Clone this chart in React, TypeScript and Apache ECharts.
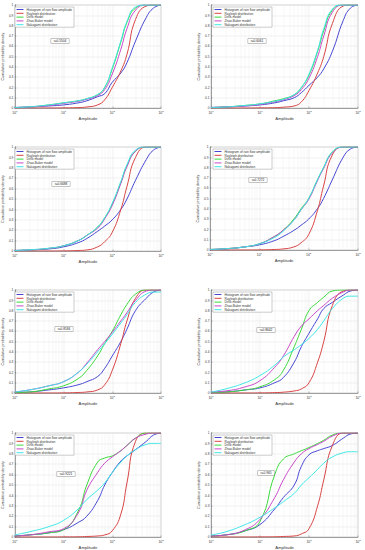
import React, { useEffect, useRef } from "react";
import * as echarts from "echarts";

// Amplitude sample points (log axis)
const X = [1, 2, 5, 10, 20, 30, 50, 70, 100, 150, 200, 300, 500, 700, 1000];

// Panel 1
const hist1 = [0.005, 0.01, 0.02, 0.03, 0.05, 0.07, 0.11, 0.14, 0.25, 0.34, 0.44, 0.65, 0.88, 0.97, 1];
const ray1 = [0, 0, 0, 0.001, 0.004, 0.01, 0.03, 0.08, 0.2, 0.36, 0.52, 0.86, 0.99, 1, 1];
const dir1 = [0.005, 0.01, 0.03, 0.05, 0.07, 0.09, 0.13, 0.2, 0.38, 0.64, 0.83, 0.97, 1, 1, 1];
const zb1 = [0.005, 0.01, 0.025, 0.045, 0.065, 0.085, 0.12, 0.18, 0.33, 0.57, 0.77, 0.95, 1, 1, 1];
const nak1 = [0.005, 0.012, 0.03, 0.05, 0.07, 0.09, 0.13, 0.2, 0.39, 0.65, 0.84, 0.98, 1, 1, 1];
// Panel 2
const hist2 = [0.005, 0.01, 0.02, 0.03, 0.05, 0.07, 0.1, 0.15, 0.22, 0.3, 0.38, 0.55, 0.85, 0.97, 1];
const ray2 = [0, 0, 0, 0.001, 0.003, 0.008, 0.02, 0.06, 0.17, 0.34, 0.5, 0.82, 0.99, 1, 1];
const dir2 = [0.005, 0.01, 0.025, 0.04, 0.07, 0.09, 0.13, 0.2, 0.32, 0.55, 0.75, 0.95, 1, 1, 1];
const zb2 = [0.005, 0.01, 0.02, 0.035, 0.06, 0.08, 0.12, 0.18, 0.29, 0.5, 0.7, 0.93, 1, 1, 1];
const nak2 = [0.005, 0.01, 0.025, 0.04, 0.065, 0.085, 0.13, 0.2, 0.33, 0.56, 0.77, 0.96, 1, 1, 1];
// Panel 3
const hist3 = [0.005, 0.01, 0.02, 0.04, 0.08, 0.12, 0.19, 0.24, 0.3, 0.4, 0.5, 0.68, 0.88, 0.97, 1];
const ray3 = [0, 0, 0, 0.001, 0.005, 0.01, 0.04, 0.09, 0.18, 0.4, 0.62, 0.9, 1, 1, 1];
const dir3 = [0.005, 0.01, 0.025, 0.05, 0.1, 0.15, 0.23, 0.32, 0.45, 0.66, 0.82, 0.96, 1, 1, 1];
const zb3 = [0.005, 0.01, 0.025, 0.05, 0.1, 0.15, 0.22, 0.31, 0.44, 0.65, 0.81, 0.96, 1, 1, 1];
const nak3 = [0.005, 0.012, 0.027, 0.05, 0.1, 0.15, 0.23, 0.32, 0.46, 0.67, 0.83, 0.97, 1, 1, 1];
// Panel 4
const hist4 = [0.005, 0.01, 0.03, 0.05, 0.09, 0.13, 0.19, 0.24, 0.3, 0.4, 0.5, 0.68, 0.9, 0.98, 1];
const ray4 = [0, 0, 0, 0.001, 0.005, 0.01, 0.03, 0.07, 0.15, 0.38, 0.62, 0.92, 1, 1, 1];
const dir4 = [0.005, 0.012, 0.03, 0.06, 0.13, 0.19, 0.3, 0.4, 0.5, 0.68, 0.8, 0.95, 1, 1, 1];
const zb4 = [0.005, 0.012, 0.03, 0.06, 0.13, 0.19, 0.29, 0.39, 0.49, 0.67, 0.79, 0.94, 1, 1, 1];
const nak4 = [0.005, 0.012, 0.03, 0.06, 0.12, 0.18, 0.29, 0.39, 0.5, 0.68, 0.8, 0.95, 1, 1, 1];
// Panel 5
const hist5 = [0.005, 0.01, 0.03, 0.05, 0.08, 0.11, 0.16, 0.24, 0.36, 0.5, 0.62, 0.8, 0.92, 0.98, 1];
const ray5 = [0, 0, 0, 0.001, 0.005, 0.01, 0.03, 0.08, 0.22, 0.48, 0.7, 0.92, 1, 1, 1];
const dir5 = [0.005, 0.01, 0.04, 0.07, 0.14, 0.22, 0.36, 0.48, 0.6, 0.76, 0.86, 0.96, 1, 1, 1];
const zb5 = [0.01, 0.03, 0.07, 0.11, 0.2, 0.29, 0.42, 0.5, 0.59, 0.7, 0.78, 0.9, 0.99, 1, 1];
const nak5 = [0.01, 0.03, 0.07, 0.11, 0.2, 0.28, 0.4, 0.48, 0.57, 0.68, 0.76, 0.88, 0.96, 0.98, 0.98];
// Panel 6
const hist6 = [0.005, 0.01, 0.03, 0.05, 0.1, 0.15, 0.3, 0.45, 0.58, 0.72, 0.82, 0.88, 0.95, 0.99, 1];
const ray6 = [0, 0, 0, 0.001, 0.004, 0.008, 0.02, 0.04, 0.1, 0.3, 0.5, 0.85, 0.99, 1, 1];
const dir6 = [0.005, 0.01, 0.03, 0.06, 0.13, 0.22, 0.45, 0.62, 0.8, 0.88, 0.93, 0.99, 1, 1, 1];
const zb6 = [0.01, 0.02, 0.06, 0.12, 0.25, 0.36, 0.55, 0.65, 0.72, 0.8, 0.85, 0.92, 0.98, 1, 1];
const nak6 = [0.01, 0.04, 0.1, 0.17, 0.27, 0.35, 0.42, 0.47, 0.53, 0.62, 0.7, 0.82, 0.92, 0.94, 0.94];
// Panel 7
const hist7 = [0.01, 0.02, 0.04, 0.07, 0.14, 0.2, 0.35, 0.5, 0.62, 0.73, 0.78, 0.84, 0.92, 0.98, 1];
const ray7 = [0, 0, 0, 0.001, 0.002, 0.005, 0.01, 0.02, 0.06, 0.22, 0.52, 0.92, 1, 1, 1];
const dir7 = [0.01, 0.02, 0.04, 0.07, 0.25, 0.5, 0.72, 0.76, 0.78, 0.83, 0.88, 0.95, 1, 1, 1];
const zb7 = [0.01, 0.02, 0.05, 0.08, 0.23, 0.45, 0.62, 0.71, 0.77, 0.83, 0.88, 0.95, 0.99, 1, 1];
const nak7 = [0.02, 0.05, 0.1, 0.16, 0.27, 0.36, 0.45, 0.52, 0.62, 0.72, 0.78, 0.84, 0.89, 0.9, 0.9];
// Panel 8
const hist8 = [0.01, 0.02, 0.06, 0.12, 0.27, 0.38, 0.5, 0.68, 0.79, 0.83, 0.85, 0.88, 0.95, 0.99, 1];
const ray8 = [0, 0, 0, 0.001, 0.002, 0.005, 0.01, 0.03, 0.08, 0.3, 0.55, 0.88, 1, 1, 1];
const dir8 = [0.01, 0.02, 0.06, 0.15, 0.6, 0.75, 0.8, 0.83, 0.86, 0.9, 0.93, 0.98, 1, 1, 1];
const zb8 = [0.01, 0.02, 0.07, 0.17, 0.38, 0.55, 0.72, 0.8, 0.85, 0.89, 0.92, 0.97, 1, 1, 1];
const nak8 = [0.02, 0.05, 0.12, 0.19, 0.28, 0.34, 0.42, 0.5, 0.57, 0.65, 0.71, 0.77, 0.81, 0.82, 0.82];

const seriesNames = [
  "Histogram of rain flow amplitude",
  "Rayleigh distribution",
  "Dirlik model",
  "Zhao-Baker model",
  "Nakagami distribution",
];
const rLabels = ["r=0.5504", "r=0.6061", "r=0.6688", "r=0.7272", "r=0.8184", "r=0.8642", "r=0.9221", "r=0.965"];
const yTicks = [0, 0.1, 0.2, 0.3, 0.4, 0.5, 0.6, 0.7, 0.8, 0.9, 1];
const minorX = [2, 3, 4, 5, 6, 7, 8, 9, 20, 30, 40, 50, 60, 70, 80, 90, 200, 300, 400, 500, 600, 700, 800, 900];

const panels = [
  [hist1, ray1, dir1, zb1, nak1],
  [hist2, ray2, dir2, zb2, nak2],
  [hist3, ray3, dir3, zb3, nak3],
  [hist4, ray4, dir4, zb4, nak4],
  [hist5, ray5, dir5, zb5, nak5],
  [hist6, ray6, dir6, zb6, nak6],
  [hist7, ray7, dir7, zb7, nak7],
  [hist8, ray8, dir8, zb8, nak8],
];

const colors = ["#4646d2", "#d84444", "#3ad83a", "#c848c8", "#3ee6e6"];

const gridBoxes = [
  { left: 14, top: 5, width: 147, height: 103 },
  { left: 211, top: 5, width: 147, height: 103 },
  { left: 14, top: 147, width: 147, height: 104 },
  { left: 210, top: 147, width: 148, height: 103 },
  { left: 14, top: 290, width: 147, height: 103 },
  { left: 211, top: 290, width: 147, height: 103 },
  { left: 14, top: 433, width: 147, height: 104 },
  { left: 211, top: 433, width: 147, height: 104 },
];
const legendPos = [
  [15, 7], [213, 7], [15, 149], [213, 149], [15, 292], [213, 292], [15, 435], [213, 435],
];
const rPos = [
  [60, 41], [257, 41], [61, 184], [258, 180], [64, 329], [266, 330], [66, 474], [266, 473],
];

export default function App() {
  const ref = useRef<HTMLDivElement>(null);
  useEffect(() => {
    if (!ref.current) return;
    const chart = echarts.init(ref.current, null, { renderer: "svg" });
    const font = "Liberation Sans, Arial, sans-serif";
    const grid = gridBoxes.map((g) => ({
      ...g,
      show: true,
      borderColor: "#b0b0b0",
      borderWidth: 0.5,
      backgroundColor: "#ffffff",
    }));
    const xAxis = gridBoxes.map((_, i) => ({
      type: "log",
      logBase: 10,
      min: 1,
      max: 1000,
      gridIndex: i,
      name: "Amplitude",
      nameLocation: "middle",
      nameGap: 8,
      nameTextStyle: { fontSize: 4.2, color: "#333", fontFamily: font },
      axisLine: { show: true, lineStyle: { color: "#555", width: 0.5 } },
      axisTick: { show: true, inside: true, length: 1.5, lineStyle: { color: "#555", width: 0.4 } },
      axisLabel: {
        fontSize: 3.4,
        color: "#333",
        margin: 2.5,
        fontFamily: font,
        formatter: (v: number) => "10{s|" + Math.round(Math.log10(v)) + "}",
        rich: { s: { fontSize: 2.4, color: "#333", padding: [0, 0, 2.5, 0], fontFamily: font } },
      },
      splitLine: { show: true, lineStyle: { color: "#d8d8d8", width: 0.4 } },
    }));
    const yAxis = gridBoxes.map((g, i) => ({
      type: "value",
      min: 0,
      max: 1,
      interval: 0.1,
      gridIndex: i,
      name: "Cumulative probability density",
      nameLocation: "middle",
      nameGap: i % 2 === 0 ? 5 : 8,
      nameTextStyle: { fontSize: 3.6, color: "#333", fontFamily: font },
      axisLine: { show: true, lineStyle: { color: "#555", width: 0.5 } },
      axisTick: { show: true, inside: true, length: 1.5, lineStyle: { color: "#555", width: 0.4 } },
      axisLabel: {
        fontSize: 3.2,
        color: "#333",
        margin: 1.5,
        fontFamily: font,
        formatter: (v: number) => {
          const t = yTicks.find((y) => Math.abs(y - v) < 1e-6);
          return t === undefined ? "" : String(t);
        },
      },
      splitLine: { show: true, lineStyle: { color: "#d8d8d8", width: 0.4 } },
    }));
    const series: any[] = [];
    panels.forEach((p, i) => {
      p.forEach((vals, k) => {
        const s: any = {
          type: "line",
          name: seriesNames[k],
          xAxisIndex: i,
          yAxisIndex: i,
          data: X.map((x, j) => [x, vals[j]]),
          smooth: 0.5,
          showSymbol: false,
          symbol: "none",
          silent: true,
          lineStyle: { width: 1, color: colors[k] },
          itemStyle: { color: colors[k] },
          z: 3 + k,
        };
        if (k === 0) {
          s.markLine = {
            silent: true,
            symbol: "none",
            label: { show: false },
            lineStyle: { color: "#ececec", type: "solid", width: 0.35 },
            data: minorX.map((v) => ({ xAxis: v })),
            z: 1,
          };
        }
        series.push(s);
      });
    });
    const legend = legendPos.map(([l, t]) => ({
      left: l,
      top: t,
      orient: "vertical",
      icon: "rect",
      itemWidth: 7,
      itemHeight: 1,
      itemGap: 0.8,
      padding: [1, 2, 1, 1.5],
      backgroundColor: "#ffffff",
      borderColor: "#999",
      borderWidth: 0.5,
      selectedMode: false,
      textStyle: { fontSize: 3.2, color: "#333", fontFamily: font, padding: [0, 0, 0, -2] },
      data: seriesNames,
      z: 10,
    }));
    const graphic = rPos.map(([x, y], i) => ({
      type: "text",
      x,
      y,
      z: 20,
      style: {
        text: rLabels[i],
        fontSize: 3.2,
        fontFamily: font,
        fill: "#222",
        backgroundColor: "#ffffff",
        borderColor: "#888",
        borderWidth: 0.5,
        padding: [1, 2.5],
        align: "center",
        verticalAlign: "middle",
      },
    }));
    chart.setOption({
      animation: false,
      backgroundColor: "#ffffff",
      grid,
      xAxis,
      yAxis,
      legend,
      series,
      graphic,
    } as any);
    return () => chart.dispose();
  }, []);
  return (
    <div
      ref={ref}
      style={{ position: "fixed", left: 0, top: 0, width: 365, height: 550, background: "#fff" }}
    />
  );
}
